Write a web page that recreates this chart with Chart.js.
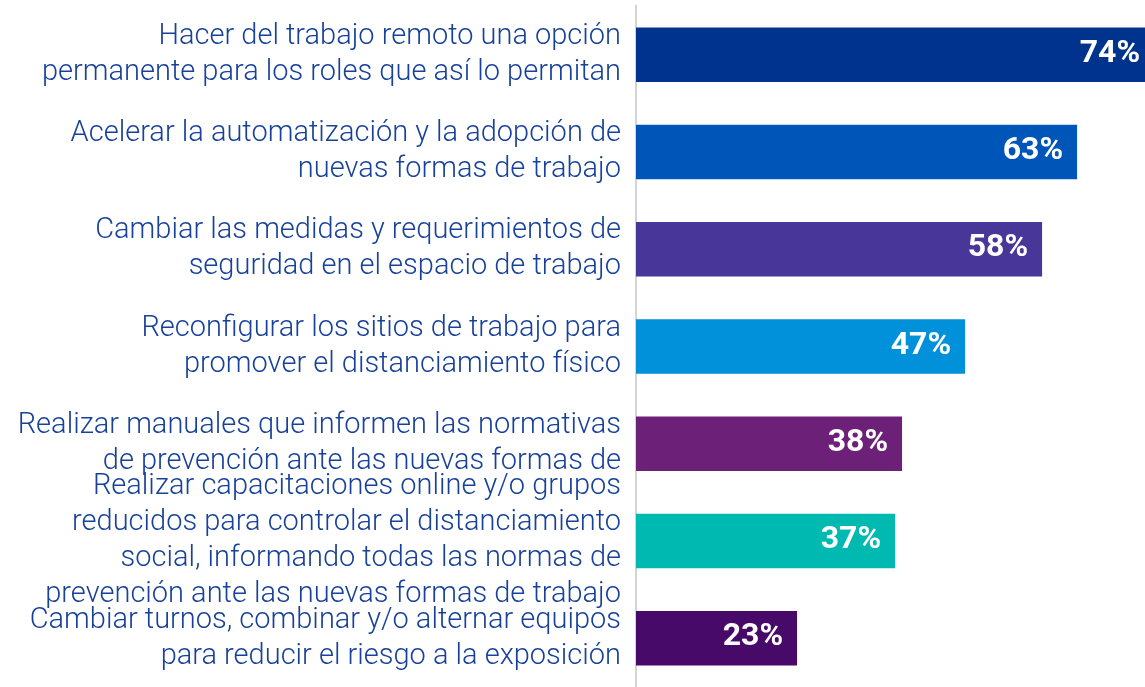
<!DOCTYPE html>
<html>
<head>
<meta charset="utf-8">
<script src="https://cdn.jsdelivr.net/npm/chart.js@4/dist/chart.umd.min.js"></script>
<style>
  html, body { margin: 0; padding: 0; background: #fff; }
  #wrap { width: 1145px; height: 687px; position: relative; }
</style>
</head>
<body>
<div id="wrap"><canvas id="chart"></canvas></div>
<script>
// ── Data ──────────────────────────────────────────────────────────────────────
const LABELS = [
  ['Hacer del trabajo remoto una opción', 'permanente para los roles que así lo permitan'],
  ['Acelerar la automatización y la adopción de', 'nuevas formas de trabajo'],
  ['Cambiar las medidas y requerimientos de', 'seguridad en el espacio de trabajo'],
  ['Reconfigurar los sitios de trabajo para', 'promover el distanciamiento físico'],
  ['Realizar manuales que informen las normativas', 'de prevención ante las nuevas formas de'],
  ['Realizar capacitaciones online y/o grupos', 'reducidos para controlar el distanciamiento',
   'social, informando todas las normas de', 'prevención ante las nuevas formas de trabajo'],
  ['Cambiar turnos, combinar y/o alternar equipos', 'para reducir el riesgo a la exposición'],
];
const VALUES = [74, 63, 58, 47, 38, 37, 23];
const BAR_COLORS = ['#00338D', '#0055B8', '#483698', '#0091DA', '#6D2077', '#00B9B0', '#470A68'];

// ── Value labels inside the bars ──────────────────────────────────────────────
const valueLabels = {
  id: 'valueLabels',
  afterDatasetsDraw(chart) {
    const ctx = chart.ctx;
    const meta = chart.getDatasetMeta(0);
    ctx.save();
    ctx.font = "bold 32px Roboto, 'Liberation Sans', sans-serif";
    ctx.fillStyle = '#ffffff';
    ctx.textAlign = 'right';
    ctx.textBaseline = 'middle';
    meta.data.forEach((bar, i) => {
      ctx.fillText(VALUES[i] + '%', bar.x - 14, bar.y - 1);
    });
    ctx.restore();
  },
};

new Chart(document.getElementById('chart'), {
  type: 'bar',
  data: {
    labels: LABELS,
    datasets: [{
      data: VALUES,
      backgroundColor: BAR_COLORS,
      borderWidth: 0,
      categoryPercentage: 1,
      barPercentage: 0.56,
    }],
  },
  options: {
    indexAxis: 'y',
    responsive: true,
    maintainAspectRatio: false,
    animation: false,
    layout: { padding: { top: 6, bottom: 0, left: 0, right: 0 } },
    plugins: {
      legend: { display: false },
      tooltip: { enabled: false },
    },
    scales: {
      x: {
        display: false,
        min: 0,
        max: 72.7,
      },
      y: {
        // fixed label column; tall labels may overflow the chart area like the original
        afterFit: scale => {
          scale.width = 636;
          scale.paddingTop = 0;
          scale.paddingBottom = 0;
        },
        grid: { display: false, drawTicks: false },
        border: { display: true, color: '#d4d4d4', width: 2 },
        ticks: {
          autoSkip: false,
          padding: 15,
          color: '#17419A',
          font: { family: "Roboto, 'Liberation Sans', sans-serif", size: 29, weight: '300', lineHeight: 1.24 },
        },
      },
    },
  },
  plugins: [valueLabels],
});
</script>
</body>
</html>
